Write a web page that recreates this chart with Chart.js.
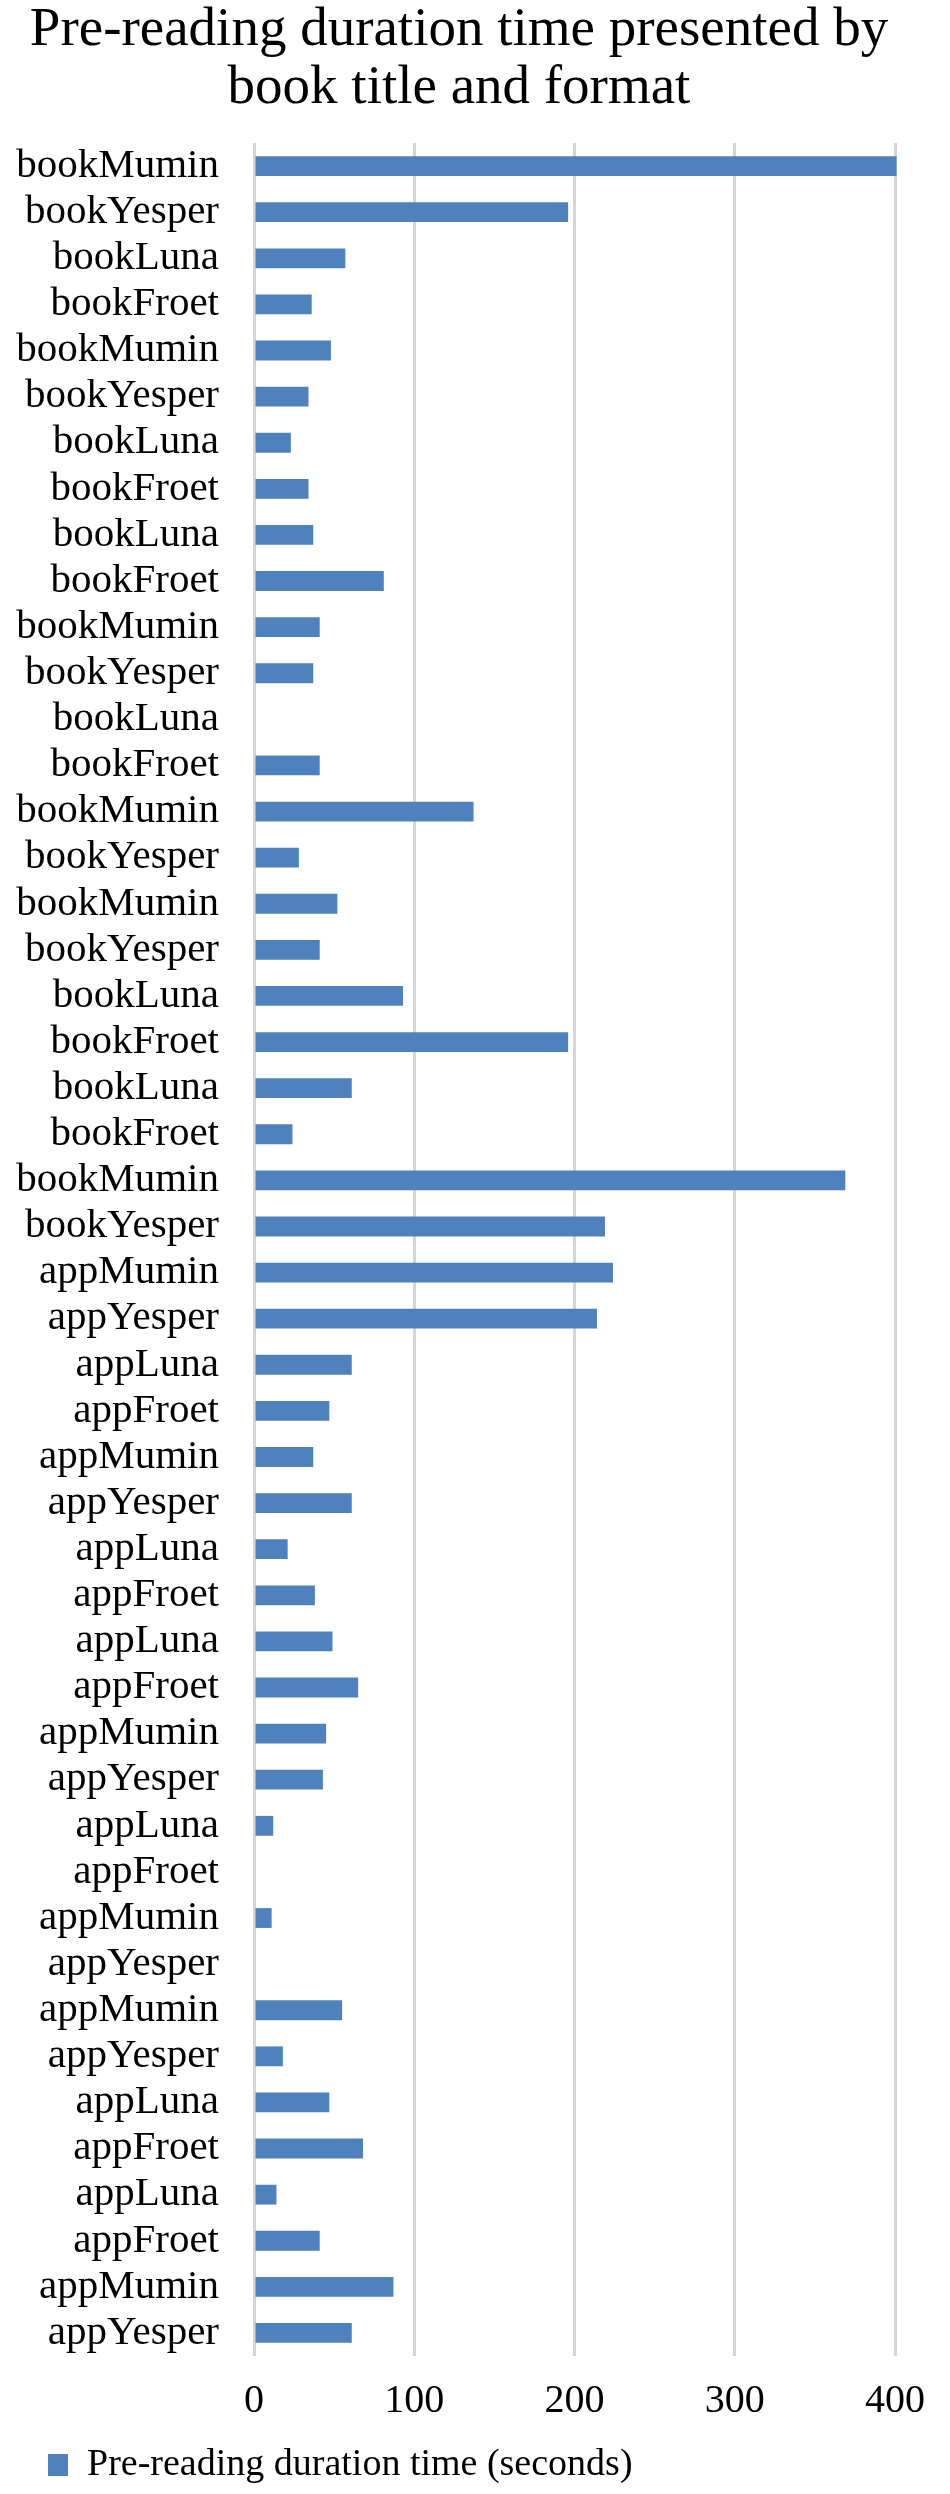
<!DOCTYPE html>
<html>
<head>
<meta charset="utf-8">
<script src="https://cdn.jsdelivr.net/npm/chart.js@4.4.0/dist/chart.umd.min.js"></script>
<style>
  html, body { margin: 0; padding: 0; background: #fff; }
  #wrap { width: 950px; height: 2494px; position: relative; }
</style>
</head>
<body>
<div id="wrap"><canvas id="durationChart"></canvas></div>
<script>
// book titles by format, top to bottom as in the figure
var bookLabels = [
  'bookMumin', 'bookYesper', 'bookLuna', 'bookFroet',
  'bookMumin', 'bookYesper', 'bookLuna', 'bookFroet',
  'bookLuna', 'bookFroet', 'bookMumin', 'bookYesper',
  'bookLuna', 'bookFroet', 'bookMumin', 'bookYesper',
  'bookMumin', 'bookYesper', 'bookLuna', 'bookFroet',
  'bookLuna', 'bookFroet', 'bookMumin', 'bookYesper',
  'appMumin', 'appYesper', 'appLuna', 'appFroet',
  'appMumin', 'appYesper', 'appLuna', 'appFroet',
  'appLuna', 'appFroet', 'appMumin', 'appYesper',
  'appLuna', 'appFroet', 'appMumin', 'appYesper',
  'appMumin', 'appYesper', 'appLuna', 'appFroet',
  'appLuna', 'appFroet', 'appMumin', 'appYesper'
];

// pre-reading duration in seconds
var durationSeconds = [
  401, 196, 57, 36, 48, 34, 23, 34,
  37, 81, 41, 37, 0, 41, 137, 28,
  52, 41, 93, 196, 61, 24, 369, 219,
  224, 214, 61, 47, 37, 61, 21, 38,
  49, 65, 45, 43, 12, 0, 11, 0,
  55, 18, 47, 68, 14, 41, 87, 61
];

var xTicks = [0, 100, 200, 300, 400];

var serif = "'Liberation Serif', 'Times New Roman', serif";

var ctx = document.getElementById('durationChart').getContext('2d');
var durationChart = new Chart(ctx, {
  type: 'bar',
  data: {
    labels: bookLabels,
    datasets: [{
      label: 'Pre-reading duration time (seconds)',
      data: durationSeconds,
      backgroundColor: '#4F81BD',
      borderWidth: 0,
      categoryPercentage: 1,
      barPercentage: 0.43,
      clip: false
    }]
  },
  options: {
    indexAxis: 'y',
    responsive: true,
    maintainAspectRatio: false,
    animation: false,
    layout: {
      padding: { left: 9, right: 41, top: 0, bottom: 0 }
    },
    plugins: {
      title: {
        display: true,
        text: ['Pre-reading duration time presented by', 'book title and format'],
        color: '#000',
        font: { family: serif, size: 55, weight: 'normal', lineHeight: 1.055 },
        padding: { top: 2, bottom: 25 }
      },
      legend: {
        display: true,
        position: 'bottom',
        align: 'start',
        labels: {
          color: '#000',
          font: { family: serif, size: 38 },
          boxWidth: 20,
          boxHeight: 22,
          padding: 0,
          generateLabels: function (chart) {
            var items = Chart.defaults.plugins.legend.labels.generateLabels(chart);
            // empty spacer so the key sits a little in from the left edge
            items.unshift({ text: '', fillStyle: 'rgba(0,0,0,0)', strokeStyle: 'rgba(0,0,0,0)', lineWidth: 0, hidden: false, datasetIndex: -1 });
            return items;
          }
        }
      },
      tooltip: { enabled: false }
    },
    scales: {
      x: {
        min: 0,
        max: 400,
        afterBuildTicks: function (axis) {
          axis.ticks = xTicks.map(function (v) { return { value: v }; });
        },
        grid: {
          color: '#d6d6d6',
          lineWidth: 3,
          drawTicks: false
        },
        border: { display: false },
        ticks: {
          color: '#000',
          padding: 25,
          font: { family: serif, size: 40, lineHeight: 1 }
        }
      },
      y: {
        grid: { display: false, drawTicks: false },
        border: { display: false },
        afterFit: function (axis) { axis.width = 245; },
        ticks: {
          autoSkip: false,
          color: '#000',
          padding: 35,
          font: { family: serif, size: 41, lineHeight: 1 }
        }
      }
    }
  }
});
</script>
</body>
</html>
